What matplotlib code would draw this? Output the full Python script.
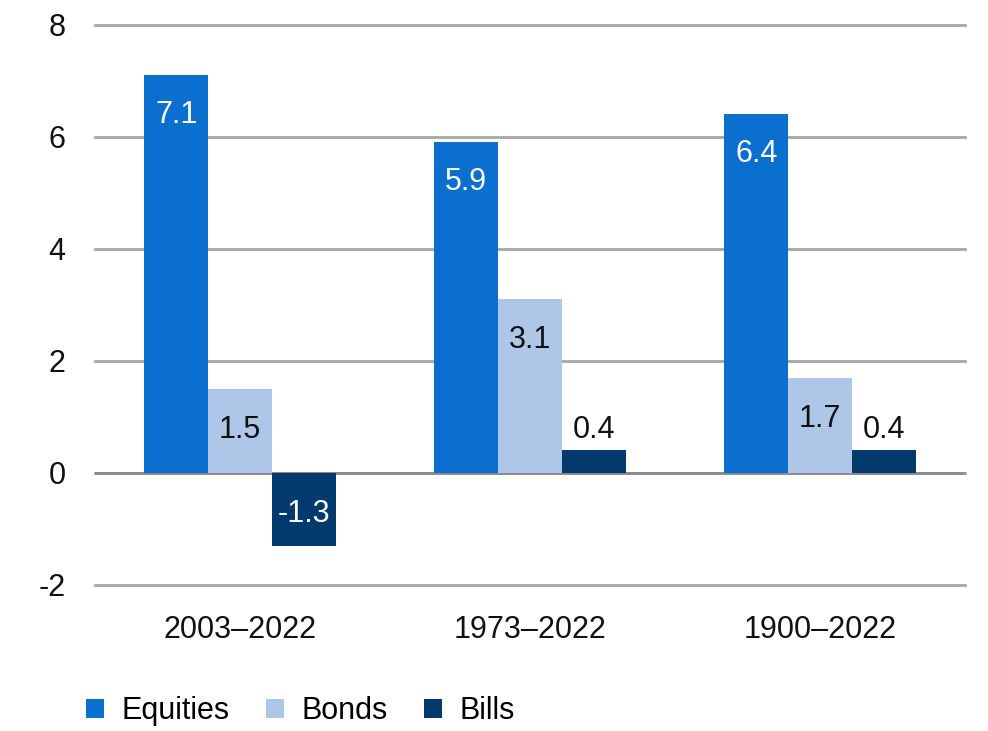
import numpy as np
import matplotlib.pyplot as plt

plt.rcParams['font.family'] = ['Liberation Sans', 'DejaVu Sans']
plt.rcParams['axes.unicode_minus'] = False

periods = ["2003\u20132022", "1973\u20132022", "1900\u20132022"]
equities = [7.1, 5.9, 6.4]
bonds = [1.5, 3.1, 1.7]
bills = [-1.3, 0.4, 0.4]

c_eq = '#0a6fcf'
c_bo = '#aec7e8'
c_bi = '#033a6e'

fig = plt.figure(figsize=(9.88, 7.31), dpi=100)
ax = fig.add_axes([0.096, 0.2, 0.881, 0.766])

x = np.arange(len(periods))
w = 0.22
fs = 22
px = 0.72  # points per pixel

b1 = ax.bar(x - w, equities, w, color=c_eq, label='Equities', zorder=3)
b2 = ax.bar(x, bonds, w, color=c_bo, label='Bonds', zorder=3)
b3 = ax.bar(x + w, bills, w, color=c_bi, label='Bills', zorder=3)

for xi, v in zip(x - w, equities):
    ax.annotate(f"{v:.1f}", (xi, v), xytext=(0, -40 * px), textcoords='offset points',
                ha='center', va='center', color='white', fontsize=fs, zorder=4)
for xi, v in zip(x, bonds):
    ax.annotate(f"{v:.1f}", (xi, v), xytext=(0, -41 * px), textcoords='offset points',
                ha='center', va='center', color='#111111', fontsize=fs, zorder=4)
for xi, v in zip(x + w, bills):
    if v < 0:
        ax.annotate(f"{v:.1f}", (xi, v), xytext=(0, 32 * px), textcoords='offset points',
                    ha='center', va='center', color='white', fontsize=fs, zorder=4)
    else:
        ax.annotate(f"{v:.1f}", (xi, v), xytext=(0, 20 * px), textcoords='offset points',
                    ha='center', va='center', color='#111111', fontsize=fs, zorder=4)

ax.set_ylim(-2, 8)
ax.set_xlim(-0.5, 2.5)
ax.set_yticks(range(-2, 9, 2))
ax.set_xticks(x)
ax.set_xticklabels(periods)
ax.yaxis.grid(True, color='#a6a6a6', lw=2, zorder=0)
for gl in ax.get_ygridlines():
    gl.set_clip_on(False)
ax.axhline(0, color='#8a8a8a', lw=2, zorder=2)
for s in ax.spines.values():
    s.set_visible(False)
ax.tick_params(axis='y', length=0, pad=21, labelsize=fs, colors='#111111')
ax.tick_params(axis='x', length=0, pad=22, labelsize=fs, colors='#111111')

fig.legend(handles=[b1, b2, b3], loc='center left', bbox_to_anchor=(0.087, 0.027),
           ncol=3, frameon=False, fontsize=fs, handlelength=0.6, handleheight=0.6,
           handletextpad=0.55, columnspacing=1.2, borderaxespad=0, borderpad=0)

fig.savefig('out.png', dpi=100)
